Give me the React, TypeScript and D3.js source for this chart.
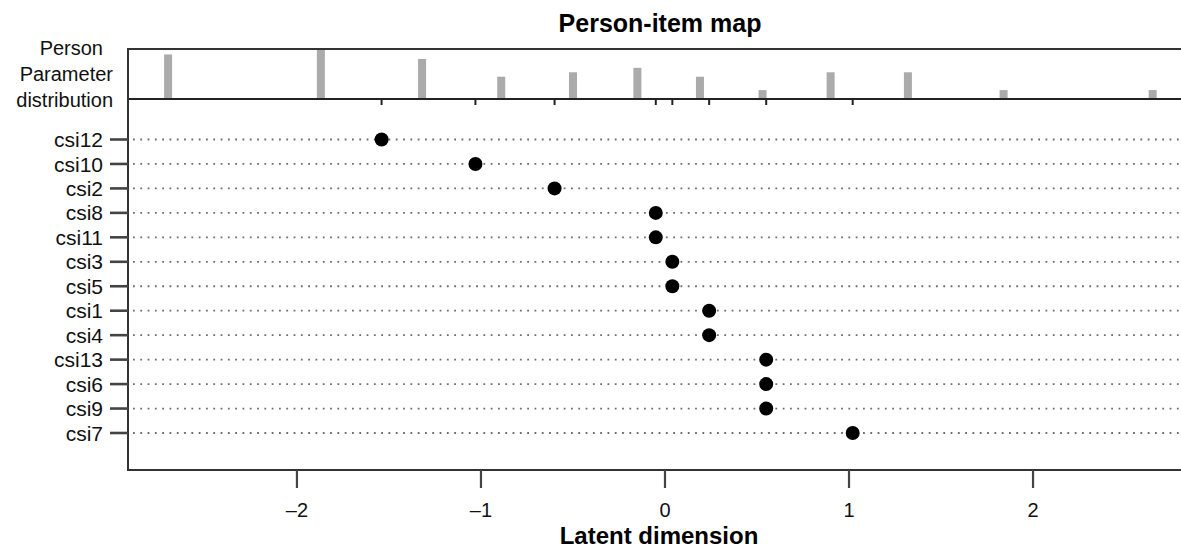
import { useMemo } from 'react';
import * as d3 from 'd3';

// item difficulties, top to bottom
const items = ['csi12', 'csi10', 'csi2', 'csi8', 'csi11', 'csi3', 'csi5', 'csi1', 'csi4', 'csi13', 'csi6', 'csi9', 'csi7'];
const difficulty = [-1.54, -1.03, -0.6, -0.05, -0.05, 0.04, 0.04, 0.24, 0.24, 0.55, 0.55, 0.55, 1.02];

// person parameter distribution
const personLocs = [-2.7, -1.87, -1.32, -0.89, -0.5, -0.15, 0.19, 0.53, 0.9, 1.32, 1.84, 2.65];
const personCounts = [10, 11, 9, 5, 6, 7, 5, 2, 6, 6, 2, 2];

const xTicks = [-2, -1, 0, 1, 2];
const histLabel = ['Person', 'Parameter', 'distribution'];

const W = 1181;
const H = 550;
const FONT = '"Liberation Sans", Arial, Helvetica, sans-serif';

const plotLeft = 128;
const plotRight = 1181;
const histTop = 49;
const histBottom = 99;
const axisY = 470;

export default function App() {
  const x = useMemo(() => d3.scaleLinear().domain([-2.918, 2.804]).range([plotLeft, plotRight]), []);
  const yHist = useMemo(() => d3.scaleLinear().domain([0, 11]).range([histBottom, histTop + 1]), []);
  const y = useMemo(
    () => d3.scaleLinear().domain([0, items.length - 1]).range([139.5, 433]),
    []
  );

  const itemTicks = Array.from(new Set(difficulty));

  return (
    <div style={{ position: 'absolute', left: 0, top: 0 }}>
      <svg width={W} height={H} style={{ display: 'block', background: '#fff' }} fontFamily={FONT}>
        <text x={660} y={32} textAnchor="middle" fontSize={25} fontWeight="bold" fill="#000">
          Person-item map
        </text>

        {/* left label of histogram */}
        <g fontSize={20} fill="#111" textAnchor="end">
          {histLabel.map((s, i) => (
            <text key={s} x={i === 0 ? 103 : 113} y={55 + i * 26}>
              {s}
            </text>
          ))}
        </g>

        {/* histogram bars */}
        {personLocs.map((v, i) => (
          <rect
            key={i}
            x={x(v) - 4}
            y={yHist(personCounts[i])}
            width={8}
            height={histBottom - yHist(personCounts[i])}
            fill="#ababab"
          />
        ))}

        {/* dotted guide lines */}
        {items.map((it, i) => (
          <line
            key={it}
            x1={plotLeft + 5}
            x2={plotRight}
            y1={y(i)}
            y2={y(i)}
            stroke="#6e6e6e"
            strokeWidth={1.8}
            strokeDasharray="1.8,5.5"
          />
        ))}

        {/* frame */}
        <line x1={plotLeft} x2={plotRight} y1={histTop} y2={histTop} stroke="#333" strokeWidth={2} />
        <line x1={plotLeft} x2={plotRight} y1={histBottom} y2={histBottom} stroke="#222" strokeWidth={2} />
        <line x1={plotLeft} x2={plotLeft} y1={histTop - 1} y2={axisY + 1} stroke="#333" strokeWidth={2} />
        <line x1={plotLeft} x2={plotRight} y1={axisY} y2={axisY} stroke="#333" strokeWidth={2.2} />

        {/* item ticks under histogram */}
        {itemTicks.map((v, i) => (
          <line key={i} x1={x(v)} x2={x(v)} y1={histBottom} y2={histBottom + 6} stroke="#222" strokeWidth={2} />
        ))}

        {/* y axis */}
        {items.map((it, i) => (
          <g key={it}>
            <line x1={plotLeft - 18} x2={plotLeft} y1={y(i)} y2={y(i)} stroke="#444" strokeWidth={2.6} />
            <text x={103} y={y(i)} dy="0.36em" textAnchor="end" fontSize={21} fill="#111">
              {it}
            </text>
          </g>
        ))}

        {/* points */}
        {difficulty.map((v, i) => (
          <circle key={i} cx={x(v)} cy={y(i)} r={7} fill="#000" />
        ))}

        {/* x axis */}
        {xTicks.map((t) => (
          <g key={t}>
            <line x1={x(t)} x2={x(t)} y1={axisY} y2={axisY + 18} stroke="#444" strokeWidth={2.2} />
            <text x={x(t)} y={517} textAnchor="middle" fontSize={20} fill="#111">
              {t < 0 ? `\u2013${Math.abs(t)}` : `${t}`}
            </text>
          </g>
        ))}

        <text x={659} y={544} textAnchor="middle" fontSize={24} fontWeight="bold" fill="#000">
          Latent dimension
        </text>
      </svg>
    </div>
  );
}
